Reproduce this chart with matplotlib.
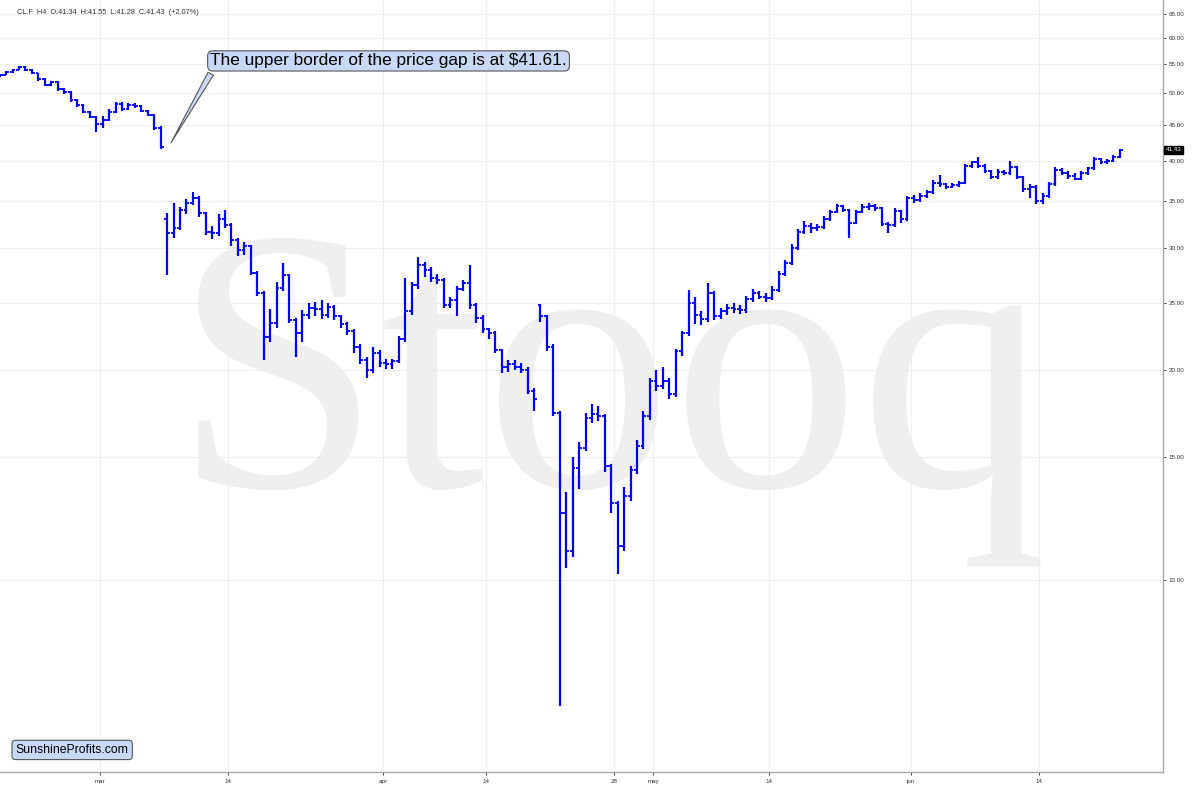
import matplotlib
matplotlib.use('Agg')
import matplotlib.pyplot as plt
import numpy as np
import pandas as pd

# CL.F, two bars per trading day
first_day = '2020-02-19'
last_day = '2020-06-23'
holidays = ['2020-04-10', '2020-05-25']

opens = [52.8, 53.1, 53.6, 54.0, 54.5, 54.0, 53.4, 52.3, 51.3, 51.9,
         50.6, 50.2, 48.8, 48.0, 47.0, 46.2, 45.2, 45.8, 47.0, 48.3,
         47.5, 48.1, 47.9, 47.2, 46.5, 44.6, 33.0, 31.5, 32.0, 34.0,
         34.8, 35.4, 33.6, 31.6, 31.5, 33.0, 32.3, 30.8, 29.8, 30.2,
         27.6, 25.8, 22.3, 23.4, 26.3, 27.4, 23.6, 22.6, 24.0, 24.6,
         24.5, 24.0, 24.7, 23.9, 23.3, 22.8, 21.6, 20.7, 20.0, 21.2,
         20.5, 20.4, 20.6, 22.2, 24.3, 26.5, 28.3, 27.9, 27.1, 27.0,
         24.8, 25.2, 26.2, 26.7, 24.8, 23.8, 22.9, 22.6, 21.4, 20.2,
         20.4, 20.2, 20.0, 18.7, 24.8, 23.9, 21.6, 17.4, 12.5, 11.0,
         14.5, 15.5, 17.1, 17.3, 17.2, 14.6, 12.9, 11.2, 13.2, 14.4,
         15.6, 17.2, 19.3, 19.0, 19.3, 18.5, 21.3, 22.6, 25.0, 24.0,
         23.7, 25.8, 23.9, 24.3, 24.6, 24.5, 24.4, 25.3, 25.8, 25.5,
         25.4, 26.1, 27.5, 28.5, 30.0, 31.6, 32.2, 32.0, 32.1, 33.0,
         33.8, 34.4, 34.0, 32.6, 33.8, 34.3, 34.4, 34.2, 32.4, 32.3,
         33.9, 33.0, 35.3, 35.1, 35.6, 36.0, 37.2, 37.0, 36.7, 36.9,
         37.2, 39.3, 39.8, 39.3, 38.6, 37.9, 38.5, 38.4, 39.1, 37.9,
         36.4, 36.7, 35.0, 35.6, 37.0, 38.8, 38.4, 38.0, 37.7, 38.4,
         39.0, 40.2, 39.8, 40.0, 40.5]

highs = [53.3, 53.8, 54.2, 54.7, 54.6, 54.1, 53.5, 52.5, 52.1, 52.0,
         50.9, 50.3, 49.0, 48.2, 47.1, 46.4, 46.4, 47.4, 48.6, 48.5,
         48.4, 48.4, 48.0, 47.3, 46.6, 44.8, 33.6, 34.8, 34.3, 35.2,
         36.1, 35.6, 33.8, 32.2, 33.5, 34.0, 32.5, 31.0, 30.6, 30.3,
         27.8, 26.0, 24.5, 26.8, 28.5, 27.5, 23.8, 24.4, 25.0, 25.1,
         25.2, 25.0, 24.8, 24.0, 23.5, 22.9, 21.8, 20.9, 21.6, 21.4,
         20.8, 20.8, 22.4, 27.1, 26.8, 29.1, 28.6, 28.1, 27.5, 27.1,
         25.5, 26.4, 27.0, 28.3, 25.0, 24.0, 23.0, 22.8, 21.5, 20.7,
         20.7, 20.5, 20.2, 18.9, 24.9, 24.0, 21.8, 17.5, 13.4, 15.0,
         15.8, 17.4, 17.9, 17.8, 17.3, 14.7, 13.0, 13.6, 14.6, 15.9,
         17.5, 19.5, 20.0, 20.2, 19.5, 21.5, 22.8, 26.1, 25.5, 24.3,
         26.7, 26.0, 24.6, 24.9, 25.0, 24.8, 25.6, 26.2, 26.0, 25.8,
         26.4, 27.8, 28.8, 30.4, 31.9, 32.8, 32.5, 32.4, 33.3, 34.0,
         34.6, 34.5, 34.1, 34.0, 34.6, 34.8, 34.6, 34.3, 32.7, 34.2,
         34.0, 35.6, 35.7, 35.9, 36.3, 37.5, 38.1, 37.2, 37.1, 37.4,
         39.6, 40.0, 40.5, 39.5, 38.8, 38.9, 38.8, 39.9, 39.3, 38.0,
         37.0, 36.9, 35.9, 37.3, 39.2, 39.0, 38.6, 38.4, 38.6, 39.2,
         40.5, 40.4, 40.2, 40.7, 41.55]

lows = [52.7, 53.0, 53.4, 53.9, 53.8, 53.2, 52.1, 51.1, 51.1, 50.4,
        49.9, 48.6, 47.8, 46.8, 46.0, 44.0, 44.6, 45.6, 46.8, 47.2,
        47.3, 47.6, 47.0, 46.3, 44.2, 41.6, 27.4, 31.0, 31.8, 33.5,
        34.5, 33.2, 31.3, 30.9, 31.2, 32.0, 30.2, 29.2, 29.3, 27.4,
        25.6, 20.7, 22.0, 23.0, 26.0, 23.4, 20.9, 22.0, 23.7, 23.9,
        23.7, 23.8, 23.6, 23.0, 22.5, 21.2, 20.4, 19.5, 19.8, 20.2,
        20.1, 20.1, 20.5, 22.0, 24.0, 26.2, 27.2, 26.8, 26.6, 24.6,
        24.6, 23.9, 26.0, 24.5, 23.4, 22.6, 22.2, 21.2, 19.8, 19.9,
        20.0, 19.8, 18.5, 17.5, 23.5, 21.3, 17.2, 6.6, 10.4, 10.8,
        13.5, 15.3, 16.8, 16.9, 14.3, 12.5, 10.2, 11.0, 13.0, 14.2,
        15.4, 17.0, 18.7, 18.8, 18.2, 18.3, 21.0, 22.4, 23.3, 23.2,
        23.5, 23.6, 23.7, 24.0, 24.2, 24.1, 24.2, 25.1, 25.3, 25.1,
        25.2, 25.9, 27.3, 28.3, 29.8, 31.4, 31.5, 31.7, 31.9, 32.8,
        33.6, 33.7, 31.0, 32.4, 33.6, 34.0, 33.9, 32.2, 31.5, 32.1,
        32.6, 32.8, 34.8, 34.9, 35.4, 35.8, 36.7, 36.4, 36.5, 36.7,
        37.0, 39.0, 39.0, 38.4, 37.6, 37.7, 38.1, 38.2, 37.7, 36.1,
        35.3, 34.7, 34.6, 35.4, 36.8, 38.1, 37.7, 37.5, 37.5, 38.2,
        38.8, 39.6, 39.5, 39.8, 40.4]

closes = [53.1, 53.6, 54.0, 54.5, 54.0, 53.4, 52.3, 51.3, 51.9, 50.6,
          50.2, 48.8, 48.0, 47.0, 46.2, 45.2, 45.8, 47.0, 48.3, 47.5,
          48.1, 47.9, 47.2, 46.5, 44.6, 41.8, 31.5, 32.0, 34.0, 34.8,
          35.4, 33.6, 31.6, 31.5, 33.0, 32.3, 30.8, 29.8, 30.2, 27.6,
          25.8, 22.3, 23.4, 26.3, 27.4, 23.6, 22.6, 24.0, 24.6, 24.5,
          24.0, 24.7, 23.9, 23.3, 22.8, 21.6, 20.7, 20.0, 21.2, 20.5,
          20.4, 20.6, 22.2, 24.3, 26.5, 28.3, 27.9, 27.1, 27.0, 24.8,
          25.2, 26.2, 26.7, 24.8, 23.8, 22.9, 22.6, 21.4, 20.2, 20.4,
          20.2, 20.0, 18.7, 18.2, 23.9, 21.6, 17.4, 12.5, 11.0, 14.5,
          15.5, 17.1, 17.3, 17.2, 14.6, 12.9, 11.2, 13.2, 14.4, 15.6,
          17.2, 19.3, 19.0, 19.3, 18.5, 21.3, 22.6, 25.0, 24.0, 23.7,
          25.8, 23.9, 24.3, 24.6, 24.5, 24.4, 25.3, 25.8, 25.5, 25.4,
          26.1, 27.5, 28.5, 30.0, 31.6, 32.2, 32.0, 32.1, 33.0, 33.8,
          34.4, 34.0, 32.6, 33.8, 34.3, 34.4, 34.2, 32.4, 32.3, 33.9,
          33.0, 35.3, 35.1, 35.6, 36.0, 37.2, 37.0, 36.7, 36.9, 37.2,
          39.3, 39.8, 39.3, 38.6, 37.9, 38.5, 38.4, 39.1, 37.9, 36.4,
          36.7, 35.0, 35.6, 37.0, 38.8, 38.4, 38.0, 37.7, 38.4, 39.0,
          40.2, 39.8, 40.0, 40.5, 41.43]

tick_dates = ['2020-03-02', '2020-03-16', '2020-04-01', '2020-04-14', '2020-04-28',
              '2020-05-01', '2020-05-14', '2020-06-01', '2020-06-15']
tick_labels = ['mar', '14', 'apr', '14', '28', 'may', '14', 'jun', '14']
price_ticks = [10, 15, 20, 25, 30, 35, 40, 45, 50, 55, 60, 65]

header = 'CL.F  H4  O:41.34  H:41.55  L:41.28  C:41.43  (+2.07%)'
note = 'The upper border of the price gap is at $41.61.'
last_price = 41.43

# trading days -> x position (one unit per day)
days = pd.bdate_range(first_day, last_day)
days = days[~days.isin(pd.to_datetime(holidays))]
day_pos = {d: i for i, d in enumerate(days)}
n = len(closes)
x = np.repeat(np.arange(len(days)), 2)[:n] + np.tile([0.25, 0.75], len(days))[:n]
w = 0.22

plt.rcParams['font.family'] = ['Liberation Sans', 'DejaVu Sans']

fig = plt.figure(figsize=(12, 7.91), dpi=100)
ax = fig.add_axes([0.0, 0.0236, 0.9688, 0.9764])

ax.set_yscale('log')
ax.set_ylim(5.30, 68.0)
mar_pos = day_pos[pd.Timestamp('2020-03-02')]
ax.set_xlim(mar_pos - 7.73, mar_pos + 82.57)

# watermark
ax.text(0.5255, 0.372, 'Stooq', transform=ax.transAxes, ha='center', va='baseline',
        fontsize=270, family='Liberation Serif', color='#efefef', zorder=0)

ax.vlines(x, lows, highs, color='#0000ff', lw=1.6, zorder=3)
ax.hlines(opens, x - w, x, color='#0000ff', lw=1.3, zorder=3)
ax.hlines(closes, x, x + w, color='#0000ff', lw=1.3, zorder=3)

ax.yaxis.tick_right()
ax.set_yticks(price_ticks)
ax.set_yticklabels(['%.2f' % v for v in price_ticks])
ax.yaxis.set_minor_locator(matplotlib.ticker.NullLocator())
ax.set_xticks([day_pos[pd.Timestamp(d)] for d in tick_dates])
ax.set_xticklabels(tick_labels)
ax.tick_params(axis='both', labelsize=4.5, colors='#333333', length=2.5, width=0.6, pad=2)
ax.grid(True, color='#eeeeee', lw=0.8, zorder=1)
ax.set_axisbelow(True)

for s in ['left', 'top']:
    ax.spines[s].set_visible(False)
for s in ['right', 'bottom']:
    ax.spines[s].set_color('#aaaaaa')
    ax.spines[s].set_linewidth(1.0)

ax.text(0.0146, 0.9832, header, transform=ax.transAxes, fontsize=5.3,
        color='#333333', va='center', ha='left')

ax.text(1.003, last_price, '%.2f' % last_price, transform=ax.get_yaxis_transform(),
        fontsize=4.5, color='white', va='center', ha='left',
        bbox=dict(boxstyle='square,pad=0.25', fc='black', ec='black'))

box_style = dict(boxstyle='round,pad=0.15,rounding_size=0.3', fc='#c9d8f6', ec='#555555', lw=0.8)
ax.annotate(note, xy=(mar_pos + 5.45, 42.1), xytext=(mar_pos + 8.6, 55.6),
            fontsize=12.4, color='black', ha='left', va='center', bbox=box_style,
            arrowprops=dict(arrowstyle='wedge,tail_width=0.35,shrink_factor=0.5',
                            fc='#c9d8f6', ec='#555555', lw=0.8, relpos=(0.01, 0.0)),
            zorder=5)

ax.text(0.0135, 0.029, 'SunshineProfits.com', transform=ax.transAxes, fontsize=8.8,
        color='black', va='center', ha='left',
        bbox=dict(boxstyle='round,pad=0.3,rounding_size=0.3', fc='#c9d8f6', ec='#555555', lw=0.8))

fig.savefig('out.png', dpi=100)
